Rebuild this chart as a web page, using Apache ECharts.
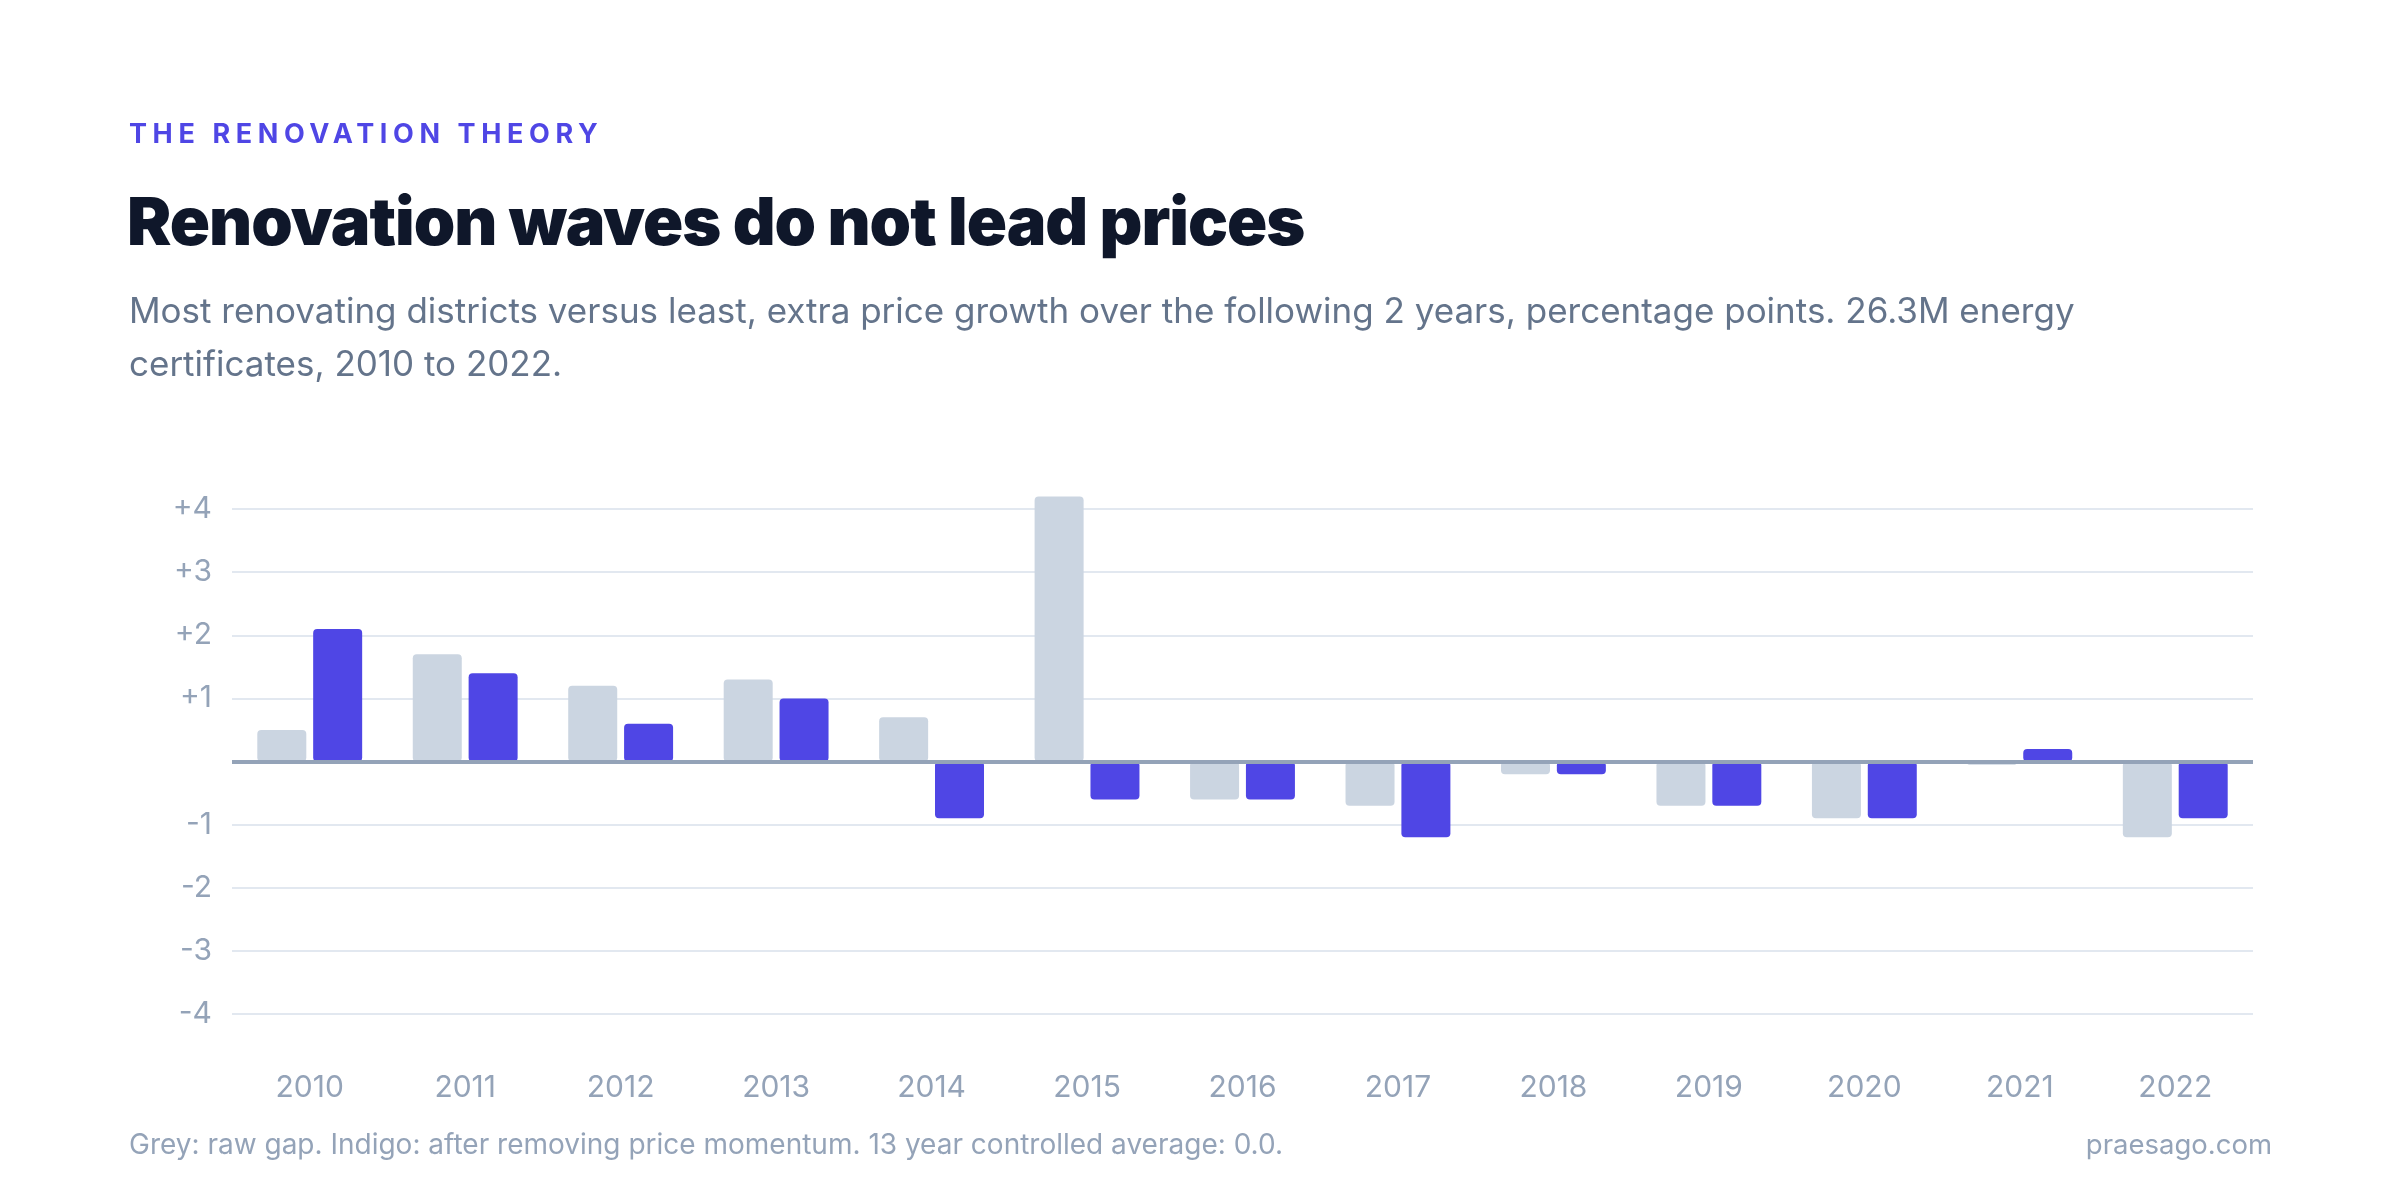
<!DOCTYPE html>
<html>
<head>
<meta charset="utf-8">
<script src="https://cdn.jsdelivr.net/npm/echarts@6/dist/echarts.min.js"></script>
<style>
  html, body { margin: 0; padding: 0; background: #fff; }
  body { width: 2400px; height: 1202px; position: relative; overflow: hidden; font-family: Inter, "Noto Sans", sans-serif; }
  #chart { position: absolute; left: 0; top: 0; width: 2400px; height: 1202px; }
  .txt { position: absolute; white-space: nowrap; }
  .kicker { left: 129px; top: 117px; font-size: 27px; font-weight: 700; letter-spacing: 5.6px; color: #4f46e5; }
  .title { left: 127px; top: 181px; font-size: 66.5px; font-weight: 900; letter-spacing: -1px; color: #0f172a; }
  .sub { left: 129px; top: 284px; font-size: 35px; line-height: 53px; color: #64748b; white-space: normal; width: 2010px; }
  .note { left: 129px; top: 1127px; font-size: 28px; color: #94a3b8; }
  .src { right: 128px; top: 1127px; font-size: 27.5px; color: #94a3b8; }
</style>
</head>
<body>
<div id="chart"></div>
<div class="txt kicker">THE RENOVATION THEORY</div>
<div class="txt title">Renovation waves do not lead prices</div>
<div class="txt sub">Most renovating districts versus least, extra price growth over the following 2 years, percentage points. 26.3M energy certificates, 2010 to 2022.</div>
<div class="txt note">Grey: raw gap. Indigo: after removing price momentum. 13 year controlled average: 0.0.</div>
<div class="txt src">praesago.com</div>
<script>
const years = ['2010', '2011', '2012', '2013', '2014', '2015', '2016', '2017', '2018', '2019', '2020', '2021', '2022']
const rawGap = [0.5, 1.7, 1.2, 1.3, 0.7, 4.2, -0.6, -0.7, -0.2, -0.7, -0.9, -0.05, -1.2]
const controlledGap = [2.1, 1.4, 0.6, 1.0, -0.9, -0.6, -0.6, -1.2, -0.2, -0.7, -0.9, 0.2, -0.9]

const chart = echarts.init(document.getElementById('chart'))

const option = {
  animation: false,
  grid: { left: 232, right: 147, top: 509, bottom: 188 },
  xAxis: {
    type: 'category',
    data: years,
    axisLine: { show: false, onZero: false },
    axisTick: { show: false },
    axisLabel: { color: '#94a3b8', fontSize: 30, margin: 59, fontFamily: 'Inter' }
  },
  yAxis: {
    type: 'value',
    min: -4,
    max: 4,
    interval: 1,
    axisLine: { show: false },
    axisTick: { show: false },
    axisLabel: {
      color: '#94a3b8',
      fontSize: 30,
      margin: 20,
      fontFamily: 'Inter',
      formatter: (v) => (v > 0 ? '+' + v : v === 0 ? '' : String(v))
    },
    splitLine: { lineStyle: { color: '#e2e8f0', width: 2 } }
  },
  series: [
    {
      name: 'Raw gap',
      type: 'bar',
      data: rawGap,
      barWidth: 49,
      barGap: '14%',
      clip: false,
      itemStyle: { color: '#cbd5e1', borderRadius: 4 }
    },
    {
      name: 'Controlled',
      type: 'bar',
      data: controlledGap,
      barWidth: 49,
      barGap: '14%',
      clip: false,
      itemStyle: { color: '#4f46e5', borderRadius: 4 },
      markLine: {
        silent: true,
        symbol: 'none',
        label: { show: false },
        lineStyle: { color: '#94a3b8', width: 4, type: 'solid' },
        data: [{ yAxis: 0 }]
      }
    }
  ]
}

chart.setOption(option)
</script>
</body>
</html>
